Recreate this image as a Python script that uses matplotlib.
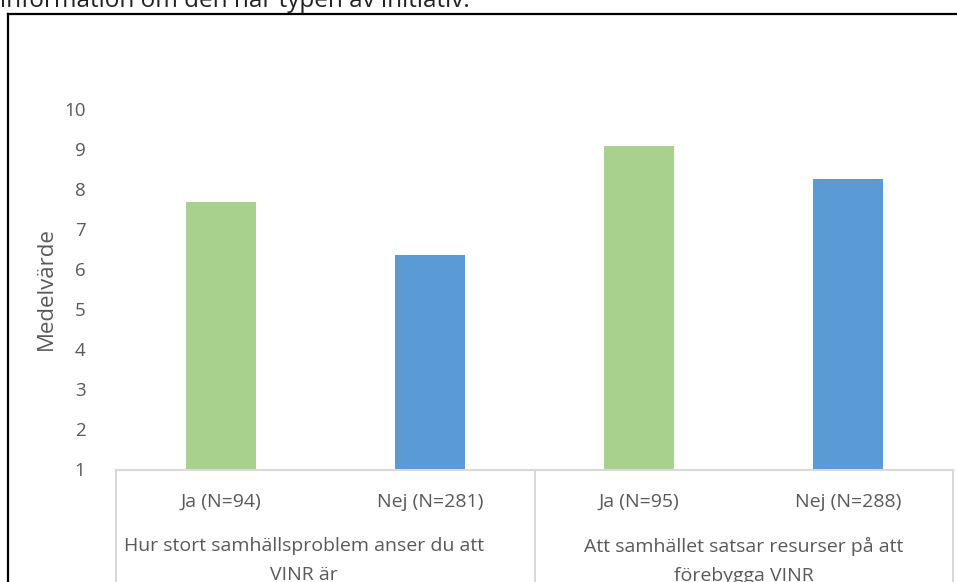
import matplotlib.pyplot as plt
from matplotlib.lines import Line2D

# Data
labels = ["Ja (N=94)", "Nej (N=281)", "Ja (N=95)", "Nej (N=288)"]
values = [7.68, 6.35, 9.06, 8.25]
colors = ["#A9D18E", "#5B9BD5", "#A9D18E", "#5B9BD5"]
groups = ["Hur stort samhällsproblem anser du att\nVINR är",
          "Att samhället satsar resurser på att\nförebygga VINR"]
group_pos = [0.4, 2.5]
yticks = list(range(1, 11))

W, H = 957, 582
plt.rcParams['font.family'] = ['Open Sans', 'DejaVu Sans']
grey = "#595959"
line_grey = "#D9D9D9"

fig = plt.figure(figsize=(W / 100, H / 100), dpi=100)

def fy(py):
    return 1 - py / H

# plot area: x 116..953 px, y 108..469.5 px
ax = fig.add_axes([116 / W, fy(469.5), (953 - 116) / W, (469.5 - 108.5) / H])
x = range(len(values))
ax.bar(x, [v - 1 for v in values], bottom=1, width=0.335, color=colors)
ax.set_xlim(-0.5, 3.5)
ax.set_ylim(1, 10)
ax.set_yticks(yticks)
ax.set_xticks([])
ax.tick_params(axis='y', length=0, labelsize=13.5, colors=grey, pad=22)
for s in ['top', 'right', 'left']:
    ax.spines[s].set_visible(False)
ax.spines['bottom'].set_color(line_grey)
ax.spines['bottom'].set_linewidth(1.5)
ax.set_ylabel("Medelvärde", fontsize=16, color=grey, labelpad=5)

# category table below axis
tr = ax.get_xaxis_transform()
axh = 469.5 - 108.5
def ay(py):
    return (469.5 - py) / axh

for xv in [-0.5, 1.5, 3.5]:
    ax.plot([xv, xv], [0, ay(600)], color=line_grey, lw=1.5,
            transform=tr, clip_on=False)

for i, lab in enumerate(labels):
    ax.text(i, ay(502), lab, transform=tr, ha='center', va='center',
            fontsize=14, color=grey)

for gx, g in zip(group_pos, groups):
    ax.text(gx, ay(537), g, transform=tr, ha='center', va='top',
            fontsize=14, color=grey, linespacing=1.75)

# outer border of the chart object
fig.add_artist(Line2D([8 / W, 8 / W], [fy(14), 0], color='black', lw=1.6))
fig.add_artist(Line2D([8 / W, 1], [fy(14), fy(14)], color='black', lw=1.6))

# cut-off caption text above the chart
fig.text(0 / W, fy(7), "information om den här typen av initiativ.",
         fontsize=17.5, color='#222222', va='baseline', ha='left')

fig.savefig("out.png", dpi=100)
